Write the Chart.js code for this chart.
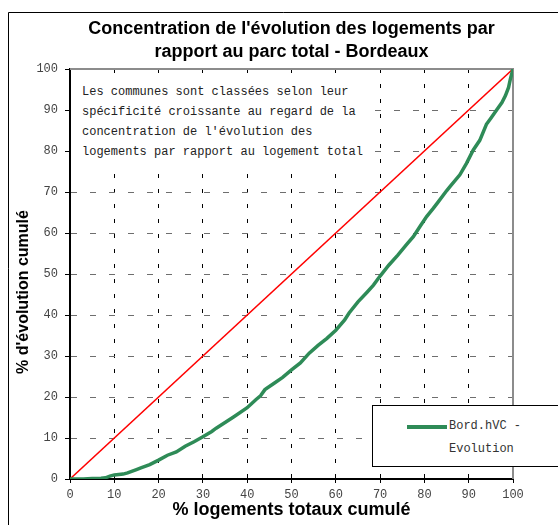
<!DOCTYPE html>
<html>
<head>
<meta charset="utf-8">
<script src="https://cdn.jsdelivr.net/npm/chart.js@4/dist/chart.umd.min.js"></script>
<style>
  body { margin: 0; background: #fff; }
  #wrap { position: relative; width: 558px; height: 525px; overflow: hidden; }
  #note {
    position: absolute; left: 71px; top: 78px; width: 304px; height: 86px;
    background: #fff; box-sizing: border-box; padding: 4px 0 0 11px;
    font: 12px "Liberation Mono", monospace; line-height: 20px; color: #222;
  }
  #legend {
    position: absolute; left: 372px; top: 405px; width: 200px; height: 62px;
    box-sizing: border-box; border: 1px solid #000; background: #fff;
  }
  #legend .swatch { position: absolute; left: 34px; top: 19px; width: 40px; height: 4px; background: #2e8b57; }
  #legend .label {
    position: absolute; left: 76px; top: 9px; width: 82px;
    font: 12px "Liberation Mono", monospace; line-height: 23px; color: #333;
  }
</style>
</head>
<body>
<div id="wrap">
  <canvas id="chart" width="558" height="525"></canvas>
  <div id="note">Les communes sont classées selon leur<br>spécificité croissante au regard de la<br>concentration de l'évolution des<br>logements par rapport au logement total</div>
  <div id="legend"><div class="swatch"></div><div class="label" id="legendLabel"></div></div>
</div>
<script>
// axis ticks (both axes, %)
const tickValues = [0, 10, 20, 30, 40, 50, 60, 70, 80, 90, 100]

// cumulated share of total housing (x) vs cumulated share of evolution (y)
const cumulLogements = [0, 3, 5, 7, 8, 9, 10, 12, 13, 15, 16, 18, 20, 22, 24, 26, 28, 30, 32, 33, 35, 37, 40,
  42, 43, 44, 46, 48, 50, 52, 54, 56, 58, 60, 62, 63, 65, 67, 68.5, 70, 72, 74, 76, 77.5, 79, 80.5, 82, 83,
  85, 86, 88, 89.5, 91, 92.5, 94, 95, 96.3, 97.5, 98.3, 99, 99.4, 100]
const cumulEvolution = [0, 0, 0.1, 0.2, 0.3, 0.7, 1.0, 1.2, 1.5, 2.3, 2.7, 3.5, 4.6, 5.8, 6.6, 8.0, 9.1, 10.3, 11.6, 12.4, 13.8, 15.2, 17.4,
  19.4, 20.3, 21.8, 23.3, 24.8, 26.6, 28.3, 30.7, 32.6, 34.3, 36.3, 38.8, 40.5, 43.2, 45.5, 47.3, 49.5, 52.2, 54.6, 57.2, 59.1, 61.6, 64.0, 66.0, 67.4,
  70.3, 71.6, 74.2, 77.0, 80.2, 82.6, 86.5, 88.0, 90.0, 91.8, 93.5, 95.5, 97.5, 100]

// equal distribution line
const equalityX = [0, 100]
const equalityY = [0, 100]

const seriesLabel = 'Bord.hVC - Evolution'
const titleLines = ["Concentration de l'évolution des logements par", 'rapport au parc total - Bordeaux']
const xTitle = '% logements totaux cumulé'
const yTitle = "% d'évolution cumulé"

const toPoints = (xs, ys) => xs.map((x, i) => ({ x, y: ys[i] }))

const tickFont = { family: 'Liberation Mono', size: 12 }

const framePlugin = {
  id: 'frame',
  beforeDraw(chart) {
    const { ctx, width, height } = chart
    ctx.save()
    ctx.fillStyle = '#fff'
    ctx.fillRect(0, 0, width, height)
    ctx.strokeStyle = '#000'
    ctx.lineWidth = 1
    ctx.beginPath()
    ctx.moveTo(8.5, height)
    ctx.lineTo(8.5, 12.5)
    ctx.lineTo(width, 12.5)
    ctx.stroke()
    ctx.restore()
  },
  beforeDatasetsDraw(chart) {
    const { ctx, chartArea } = chart
    ctx.save()
    ctx.strokeStyle = '#8c8c8c'
    ctx.lineWidth = 2
    ctx.beginPath()
    ctx.moveTo(chartArea.left, chartArea.top)
    ctx.lineTo(chartArea.right, chartArea.top)
    ctx.lineTo(chartArea.right, chartArea.bottom)
    ctx.stroke()
    ctx.restore()
  },
  afterDraw(chart) {
    // y axis title, a bit below the plot's middle like the original
    const { ctx } = chart
    ctx.save()
    ctx.translate(24, 292)
    ctx.rotate(-Math.PI / 2)
    ctx.font = 'bold 16px "Liberation Sans"'
    ctx.fillStyle = '#000'
    ctx.textAlign = 'center'
    ctx.textBaseline = 'middle'
    ctx.fillText(yTitle, 0, 0)
    ctx.restore()
  }
}

const chart = new Chart(document.getElementById('chart'), {
  type: 'scatter',
  data: {
    datasets: [
      {
        label: seriesLabel,
        data: toPoints(cumulLogements, cumulEvolution),
        showLine: true,
        borderColor: '#2e8b57',
        borderWidth: 3.5,
        pointRadius: 0,
        tension: 0
      },
      {
        label: 'diagonale',
        data: toPoints(equalityX, equalityY),
        showLine: true,
        borderColor: '#ff0000',
        borderWidth: 1.5,
        pointRadius: 0
      }
    ]
  },
  options: {
    responsive: false,
    animation: false,
    layout: { padding: { left: 0, right: 45, top: 0, bottom: 0 } },
    plugins: {
      legend: { display: false },
      tooltip: { enabled: false },
      title: {
        display: true,
        fullSize: false,
        text: titleLines,
        color: '#000',
        font: { family: 'Liberation Sans', size: 18, weight: 'bold', lineHeight: 23 / 18 },
        padding: { top: 18, bottom: 5 }
      }
    },
    scales: {
      x: {
        type: 'linear',
        min: 0,
        max: 100,
        afterBuildTicks: scale => { scale.ticks = tickValues.map(v => ({ value: v })) },
        afterFit: scale => { scale.height = 46 },
        ticks: { font: tickFont, color: '#444', padding: 5, maxRotation: 0, autoSkip: false },
        grid: {
          color: '#000',
          tickLength: 4, tickColor: '#000'
        },
        border: { color: '#000', width: 2, dash: [4, 11] },
        title: {
          display: true,
          text: xTitle,
          color: '#000',
          font: { family: 'Liberation Sans', size: 18, weight: 'bold' },
          padding: { top: 0, bottom: 4 }
        }
      },
      y: {
        type: 'linear',
        min: 0,
        max: 100,
        afterBuildTicks: scale => { scale.ticks = tickValues.map(v => ({ value: v })) },
        afterFit: scale => { scale.width = 70 },
        ticks: { font: tickFont, color: '#444', padding: 7 },
        grid: {
          color: '#6e6e6e',
          tickLength: 5, tickColor: '#000'
        },
        border: { color: '#000', width: 2, dash: [6, 13] }
      }
    }
  },
  plugins: [framePlugin]
})

document.getElementById('legendLabel').textContent = chart.data.datasets[0].label
</script>
</body>
</html>
